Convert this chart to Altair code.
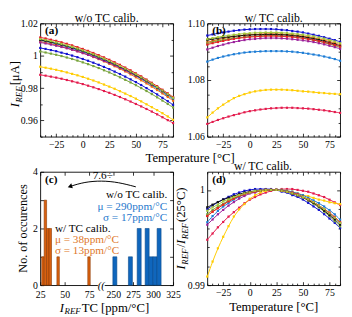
import altair as alt
import pandas as pd

FONT = "Liberation Serif"
W, H = 136, 116
SH, SV = 35, 36

TEMPS = list(range(-40, 90, 5))
SERIES = ["S1", "S2", "S3", "S4", "S5", "S6", "S7", "S8", "S9", "S10"]
COLORS = ["#E31A4C", "#FFCC00", "#1C7CD5", "#1010D0", "#F06A0F",
          "#77A33A", "#9B1F9B", "#111111", "#E41F26", "#A5C83A"]

# ---- panel (a): I_REF [uA] without TC calibration ----
A_S1 = [0.9882, 0.9877, 0.9871, 0.9865, 0.9858, 0.9850, 0.9842, 0.9834, 0.9825, 0.9815, 0.9805, 0.9794, 0.9782, 0.9771, 0.9758, 0.9745, 0.9731, 0.9717, 0.9702, 0.9687, 0.9671, 0.9655, 0.9638, 0.9620, 0.9602, 0.9584]
A_S2 = [0.9932, 0.9926, 0.9920, 0.9913, 0.9905, 0.9897, 0.9888, 0.9879, 0.9869, 0.9858, 0.9847, 0.9835, 0.9822, 0.9809, 0.9796, 0.9781, 0.9766, 0.9751, 0.9735, 0.9718, 0.9700, 0.9682, 0.9664, 0.9645, 0.9625, 0.9604]
A_S3 = [1.0094, 1.0088, 1.0081, 1.0073, 1.0064, 1.0055, 1.0045, 1.0035, 1.0024, 1.0012, 0.9999, 0.9986, 0.9972, 0.9958, 0.9943, 0.9927, 0.9910, 0.9893, 0.9875, 0.9856, 0.9837, 0.9817, 0.9796, 0.9774, 0.9752, 0.9730]
A_S4 = [1.0048, 1.0042, 1.0035, 1.0028, 1.0019, 1.0011, 1.0001, 0.9991, 0.9980, 0.9969, 0.9957, 0.9944, 0.9931, 0.9917, 0.9902, 0.9887, 0.9871, 0.9854, 0.9837, 0.9819, 0.9800, 0.9781, 0.9761, 0.9740, 0.9719, 0.9697]
A_S5 = [1.0087, 1.0081, 1.0074, 1.0066, 1.0057, 1.0048, 1.0038, 1.0028, 1.0017, 1.0005, 0.9992, 0.9979, 0.9965, 0.9950, 0.9935, 0.9919, 0.9903, 0.9885, 0.9867, 0.9848, 0.9829, 0.9809, 0.9788, 0.9767, 0.9745, 0.9722]
A_S6 = [1.0026, 1.0020, 1.0013, 1.0006, 0.9998, 0.9989, 0.9980, 0.9970, 0.9959, 0.9948, 0.9936, 0.9924, 0.9910, 0.9897, 0.9882, 0.9867, 0.9851, 0.9835, 0.9818, 0.9800, 0.9782, 0.9763, 0.9743, 0.9723, 0.9702, 0.9680]
A_S7 = [1.0082, 1.0076, 1.0069, 1.0062, 1.0054, 1.0046, 1.0037, 1.0027, 1.0016, 1.0005, 0.9994, 0.9981, 0.9968, 0.9955, 0.9941, 0.9926, 0.9910, 0.9894, 0.9877, 0.9860, 0.9842, 0.9823, 0.9804, 0.9784, 0.9763, 0.9742]
A_S8 = [1.0098, 1.0092, 1.0085, 1.0077, 1.0069, 1.0060, 1.0050, 1.0040, 1.0029, 1.0017, 1.0005, 0.9991, 0.9978, 0.9963, 0.9948, 0.9933, 0.9916, 0.9899, 0.9881, 0.9863, 0.9844, 0.9824, 0.9804, 0.9782, 0.9761, 0.9738]
A_S9 = [1.0113, 1.0107, 1.0099, 1.0092, 1.0083, 1.0074, 1.0064, 1.0053, 1.0042, 1.0030, 1.0017, 1.0004, 0.9990, 0.9975, 0.9960, 0.9944, 0.9927, 0.9910, 0.9891, 0.9873, 0.9853, 0.9833, 0.9812, 0.9790, 0.9768, 0.9745]
A_S10 = [1.0103, 1.0097, 1.0090, 1.0082, 1.0073, 1.0064, 1.0055, 1.0044, 1.0033, 1.0021, 1.0009, 0.9995, 0.9982, 0.9967, 0.9952, 0.9936, 0.9920, 0.9902, 0.9885, 0.9866, 0.9847, 0.9827, 0.9806, 0.9785, 0.9763, 0.9740]

# ---- panel (b): I_REF [uA] with TC calibration ----
B_S1 = [1.0645, 1.0652, 1.0659, 1.0665, 1.0671, 1.0676, 1.0681, 1.0686, 1.0690, 1.0693, 1.0696, 1.0698, 1.0700, 1.0701, 1.0702, 1.0702, 1.0702, 1.0701, 1.0700, 1.0699, 1.0697, 1.0695, 1.0693, 1.0690, 1.0687, 1.0684]
B_S2 = [1.0668, 1.0685, 1.0700, 1.0713, 1.0725, 1.0736, 1.0744, 1.0750, 1.0756, 1.0760, 1.0763, 1.0765, 1.0766, 1.0766, 1.0766, 1.0765, 1.0764, 1.0762, 1.0760, 1.0759, 1.0757, 1.0755, 1.0754, 1.0752, 1.0751, 1.0750]
B_S3 = [1.0865, 1.0872, 1.0878, 1.0883, 1.0887, 1.0891, 1.0894, 1.0897, 1.0899, 1.0900, 1.0901, 1.0902, 1.0902, 1.0902, 1.0902, 1.0901, 1.0900, 1.0898, 1.0896, 1.0893, 1.0890, 1.0887, 1.0883, 1.0879, 1.0874, 1.0868]
B_S4 = [1.0957, 1.0961, 1.0965, 1.0968, 1.0971, 1.0974, 1.0976, 1.0978, 1.0979, 1.0980, 1.0980, 1.0980, 1.0980, 1.0979, 1.0977, 1.0976, 1.0973, 1.0971, 1.0968, 1.0964, 1.0960, 1.0956, 1.0951, 1.0946, 1.0941, 1.0935]
B_S5 = [1.0933, 1.0938, 1.0942, 1.0946, 1.0950, 1.0953, 1.0956, 1.0958, 1.0960, 1.0961, 1.0962, 1.0963, 1.0963, 1.0963, 1.0962, 1.0961, 1.0959, 1.0957, 1.0955, 1.0952, 1.0949, 1.0945, 1.0941, 1.0936, 1.0931, 1.0925]
B_S6 = [1.0929, 1.0934, 1.0938, 1.0941, 1.0945, 1.0948, 1.0950, 1.0952, 1.0954, 1.0955, 1.0956, 1.0957, 1.0957, 1.0957, 1.0956, 1.0955, 1.0953, 1.0951, 1.0948, 1.0945, 1.0941, 1.0937, 1.0932, 1.0927, 1.0921, 1.0915]
B_S7 = [1.0908, 1.0914, 1.0920, 1.0925, 1.0930, 1.0934, 1.0938, 1.0941, 1.0944, 1.0945, 1.0947, 1.0948, 1.0948, 1.0948, 1.0947, 1.0946, 1.0944, 1.0942, 1.0940, 1.0937, 1.0934, 1.0930, 1.0926, 1.0921, 1.0916, 1.0910]
B_S8 = [1.0941, 1.0944, 1.0947, 1.0950, 1.0952, 1.0954, 1.0956, 1.0958, 1.0959, 1.0960, 1.0960, 1.0961, 1.0961, 1.0961, 1.0960, 1.0959, 1.0957, 1.0955, 1.0953, 1.0949, 1.0946, 1.0942, 1.0937, 1.0932, 1.0927, 1.0921]
B_S9 = [1.0925, 1.0930, 1.0934, 1.0938, 1.0942, 1.0945, 1.0948, 1.0950, 1.0952, 1.0953, 1.0954, 1.0955, 1.0955, 1.0955, 1.0954, 1.0953, 1.0952, 1.0950, 1.0947, 1.0944, 1.0941, 1.0937, 1.0933, 1.0929, 1.0924, 1.0918]
B_S10 = [1.0944, 1.0948, 1.0951, 1.0955, 1.0957, 1.0960, 1.0962, 1.0964, 1.0965, 1.0967, 1.0967, 1.0968, 1.0968, 1.0968, 1.0967, 1.0966, 1.0964, 1.0962, 1.0960, 1.0957, 1.0954, 1.0950, 1.0946, 1.0941, 1.0936, 1.0930]

# ---- panel (c): histogram of I_REF TC [ppm/degC] ----
OR_LO = [26.5, 29.0, 31.5, 34.0, 42.0, 73.5]
OR_HI = [29.0, 31.5, 34.0, 36.5, 44.5, 76.0]
OR_N = [1, 3, 2, 2, 1, 1]
BL_LO = [249.5, 269.0, 280.0, 290.0, 295.0, 300.0, 305.0]
BL_HI = [254.5, 274.0, 285.0, 295.0, 300.0, 305.0, 310.0]
BL_N = [1, 1, 2, 2, 1, 1, 2]
TC_TICKS = [25, 50, 75, 250, 275, 300, 325]
ARROW_X = [97.5, 80.0, 62.5, 45.0, 31.0]
ARROW_Y = [3.47, 3.63, 3.69, 3.64, 3.49]


def long_df(arrs):
    rows = []
    for s, arr in zip(SERIES, arrs):
        for t, v in zip(TEMPS, arr):
            rows.append({"T": t, "v": v, "s": s})
    return pd.DataFrame(rows)


df_a = long_df([A_S1, A_S2, A_S3, A_S4, A_S5, A_S6, A_S7, A_S8, A_S9, A_S10])
df_b = long_df([B_S1, B_S2, B_S3, B_S4, B_S5, B_S6, B_S7, B_S8, B_S9, B_S10])
ref25 = df_b[df_b["T"] == 25].set_index("s")["v"]
df_d = df_b.copy()
df_d["v"] = df_b["v"] / df_b["s"].map(ref25)

ONE = pd.DataFrame({"k": [0]})

WID = {' ': 300, '(': 333, ')': 333, '[': 333, ']': 333, '/': 278, '°': 400, 'A': 722,
       'C': 667, 'T': 611, 'a': 444, 'c': 444, 'e': 444, 'm': 778, 'p': 500, 'r': 333,
       't': 278, 'u': 500, 'μ': 576, '.': 250, 'I': 380, 'R': 650, 'E': 650, 'F': 650}


def tw(s, size):
    return sum(WID.get(ch, 500) for ch in s) * size / 1000.0


def txt(text, x, y, size=12.5, angle=None, align="left", baseline="alphabetic",
        style="normal", weight="normal", color="black"):
    kw = dict(text=text, font=FONT, fontSize=size, align=align, baseline=baseline,
              fontStyle=style, fontWeight=weight, color=color)
    if angle is not None:
        kw["angle"] = angle
    return alt.Chart(ONE).mark_text(**kw).encode(x=alt.value(x), y=alt.value(y))


def compose_h(segs, cx, by):
    total = sum(tw(s, sz) for s, sz, st, dy in segs)
    x = cx - total / 2
    out = []
    for s, sz, st, dy in segs:
        out.append(txt(s, x, by + dy, size=sz, style=st))
        x += tw(s, sz)
    return out


def compose_v(segs, bx, cy):
    total = sum(tw(s, sz) for s, sz, st, dy in segs)
    y = cy + total / 2
    out = []
    for s, sz, st, dy in segs:
        out.append(txt(s, bx + dy, y, size=sz, style=st, angle=270))
        y -= tw(s, sz)
    return out


def tick_layers(xs, ys, xdom, ydom, xmaj, xmin, ymaj, ymin):
    tiny = pd.DataFrame({"tx": xdom, "ty": ydom})
    out = []
    for xv, yv, ts in [(xmaj, ymaj, 3.5), (xmin, ymin, 2.0)]:
        if not xv and not yv:
            continue
        for xo, yo in [("top", "right"), ("bottom", "left")]:
            xa = alt.Axis(orient=xo, offset=-H, values=xv, labels=False, domain=False,
                          grid=False, title=None, tickSize=ts, tickColor="black", tickWidth=0.8)
            ya = alt.Axis(orient=yo, offset=-W, values=yv, labels=False, domain=False,
                          grid=False, title=None, tickSize=ts, tickColor="black", tickWidth=0.8)
            out.append(alt.Chart(tiny).mark_point(opacity=0).encode(
                x=alt.X("tx:Q", scale=xs, axis=xa), y=alt.Y("ty:Q", scale=ys, axis=ya)))
    return out


def label_layer(xs, ys, xdom, ydom, xvals, yvals, xkw=None, ykw=None, xpad=3):
    tiny = pd.DataFrame({"tx": xdom, "ty": ydom})
    xa = alt.Axis(orient="bottom", values=xvals, ticks=False, tickSize=0, domain=False,
                  grid=False, title=None, labelPadding=xpad, labelOverlap=False,
                  labelFlush=False, **(xkw or {}))
    ya = alt.Axis(orient="left", values=yvals, ticks=False, tickSize=0, domain=False,
                  grid=False, title=None, labelPadding=3, labelOverlap=False,
                  labelFlush=False, **(ykw or {}))
    return alt.Chart(tiny).mark_point(opacity=0).encode(
        x=alt.X("tx:Q", scale=xs, axis=xa), y=alt.Y("ty:Q", scale=ys, axis=ya))


def data_layers(df, xs, ys):
    color = alt.Color("s:N", scale=alt.Scale(domain=SERIES, range=COLORS), legend=None)
    line = alt.Chart(df).mark_line(strokeWidth=1, interpolate="basis").encode(
        x=alt.X("T:Q", scale=xs, axis=None), y=alt.Y("v:Q", scale=ys, axis=None), color=color)
    pts = alt.Chart(df).mark_point(shape="square", filled=True, size=5, opacity=1).encode(
        x=alt.X("T:Q", scale=xs, axis=None), y=alt.Y("v:Q", scale=ys, axis=None), color=color)
    return [line, pts]


def panel(layers):
    return alt.layer(*layers).resolve_axis(x="independent", y="independent").properties(
        width=W, height=H)


XT_Y = H + 26
TX = [-40, 85]
XMAJ = [-25, 0, 25, 50, 75]
XMIN = [t for t in TEMPS if t not in XMAJ]
xs_T = alt.Scale(domain=TX, nice=False, zero=False)

# panel (a)
ys_a = alt.Scale(domain=[0.95, 1.02], nice=False, zero=False)
pa = panel(
    tick_layers(xs_T, ys_a, TX, [0.95, 1.02], XMAJ, XMIN, [0.96, 0.98, 1.0, 1.02], [0.95, 0.97, 0.99, 1.01])
    + [label_layer(xs_T, ys_a, TX, [0.95, 1.02], XMAJ, [0.96, 0.98, 1.0, 1.02], ykw={"format": "~g"})]
    + data_layers(df_a, xs_T, ys_a)
    + [txt("(a)", 5, 8, size=11.5, weight="bold", baseline="middle"),
       txt("w/o TC calib.", W / 2, -5.5, size=12, align="center", baseline="middle"),
       txt("Temperature [°C]", (2 * W + SH) / 2, XT_Y, size=13, align="center")]
    + compose_v([("I", 13, "italic", 0), ("REF", 9, "italic", 3), (" [μA]", 13, "normal", 0)], -22, H / 2 + 2)
)

# panel (b)
ys_b = alt.Scale(domain=[1.06, 1.10], nice=False, zero=False)
pb = panel(
    tick_layers(xs_T, ys_b, TX, [1.06, 1.10], XMAJ, XMIN, [1.06, 1.08, 1.10],
                [1.065, 1.07, 1.075, 1.085, 1.09, 1.095])
    + [label_layer(xs_T, ys_b, TX, [1.06, 1.10], XMAJ, [1.06, 1.08, 1.10], ykw={"format": ".2f"})]
    + data_layers(df_b, xs_T, ys_b)
    + [txt("(b)", 5, 8, size=11.5, weight="bold", baseline="middle"),
       txt("w/ TC calib.", W / 2, -5.5, size=12, align="center", baseline="middle")]
)

# panel (c)
CX = [0, 135.5]
xs_c = alt.Scale(domain=CX, nice=False, zero=False)
ys_c = alt.Scale(domain=[0, 4], nice=False, zero=False)


def tc_pos(v):
    return v - 25 if v < 150 else 74.5 + (v - 250) * 0.813


CPOS = [tc_pos(v) for v in TC_TICKS]
CEXPR = "datum.{f} < 150 ? datum.{f} - 25 : 74.5 + (datum.{f} - 250) * 0.813"
LBL = "datum.value < 60 ? toString(round(datum.value + 25)) : toString(round((datum.value - 74.5) / 0.813 + 250))"


def bars(lo, hi, n, fill, stroke):
    df = pd.DataFrame({"lo": lo, "hi": hi, "n": n})
    return alt.Chart(df).transform_calculate(
        x0=CEXPR.format(f="lo"), x1=CEXPR.format(f="hi")
    ).mark_rect(color=fill, stroke=stroke, strokeWidth=0.6).encode(
        x=alt.X("x0:Q", scale=xs_c, axis=None), x2="x1:Q",
        y=alt.Y("n:Q", scale=ys_c, axis=None), y2=alt.datum(0))


arrow_df = pd.DataFrame({"ax": ARROW_X, "ay": ARROW_Y})
arrow = alt.Chart(arrow_df).mark_line(interpolate="basis", color="black", strokeWidth=1).encode(
    x=alt.X("ax:Q", scale=xs_c, axis=None), y=alt.Y("ay:Q", scale=ys_c, axis=None))
head = alt.Chart(arrow_df.tail(1)).mark_point(shape="triangle", filled=True, size=28, angle=253,
                                             color="black", opacity=1).encode(
    x=alt.X("ax:Q", scale=xs_c, axis=None), y=alt.Y("ay:Q", scale=ys_c, axis=None))

k = H / 117.0
BLUE_T = "#1F78CC"
ORNG_T = "#E0782A"
pc = panel(
    tick_layers(xs_c, ys_c, CX, [0, 4], CPOS, [], [0, 1, 2, 3, 4], [])
    + [label_layer(xs_c, ys_c, CX, [0, 4], CPOS, [0, 2, 4], xkw={"labelExpr": LBL}, xpad=5)]
    + [bars(OR_LO, OR_HI, OR_N, "#D9600F", "#8A3A05"),
       bars(BL_LO, BL_HI, BL_N, "#0F66BD", "#0A4A8A"),
       arrow, head,
       alt.Chart(ONE).mark_rect(color="white").encode(
           x=alt.value(59), x2=alt.value(66), y=alt.value(H - 3), y2=alt.value(H + 3)),
       txt("((", 62.5, H + 1, size=11, style="italic", align="center", baseline="middle"),
       txt("(c)", 5, 8, size=11.5, weight="bold", baseline="middle"),
       txt("7.6÷", 64, 4 * k, size=11.5, align="center", baseline="middle"),
       txt("w/o TC calib.", 130, 24.5 * k, size=11.5, align="right", baseline="middle"),
       txt("μ = 290ppm/°C", 130, 36 * k, size=11.5, align="right", baseline="middle", color=BLUE_T),
       txt("σ = 17ppm/°C", 130, 47.5 * k, size=11.5, align="right", baseline="middle", color=BLUE_T),
       txt("w/ TC calib.", 15, 59 * k, size=11.5, baseline="middle"),
       txt("μ = 38ppm/°C", 15, 70.5 * k, size=11.5, baseline="middle", color=ORNG_T),
       txt("σ = 13ppm/°C", 15, 81.5 * k, size=11.5, baseline="middle", color=ORNG_T),
       txt("No. of occurences", -14, H / 2, size=12.5, angle=270, align="center")]
    + compose_h([("I", 13, "italic", 0), ("REF", 9, "italic", 3), (" TC [ppm/°C]", 13, "normal", 0)], W / 2, XT_Y + 1)
)

# panel (d)
ys_d = alt.Scale(domain=[0.99, 1.0019], nice=False, zero=False)
pd_ = panel(
    tick_layers(xs_T, ys_d, TX, [0.99, 1.0019], XMAJ, XMIN, [0.99, 1.0],
                [0.992, 0.994, 0.996, 0.998])
    + [label_layer(xs_T, ys_d, TX, [0.99, 1.0019], XMAJ, [0.99, 1.0], ykw={"format": "~g"})]
    + data_layers(df_d, xs_T, ys_d)
    + [txt("(d)", 5, 8, size=11.5, weight="bold", baseline="middle"),
       txt("w/ TC calib.", W / 2 - 11, -5.5, size=12, align="center", baseline="middle"),
       txt("Temperature [°C]", W / 2, XT_Y, size=13, align="center")]
    + compose_v([("I", 13, "italic", 0), ("REF", 9, "italic", 3), ("/", 13, "normal", 0),
                 ("I", 13, "italic", 0), ("REF", 9, "italic", 3), ("(25°C)", 13, "normal", 0)],
                -23, H / 2)
)

chart = alt.concat(pa, pb, pc, pd_, columns=2, spacing={"row": SV, "column": SH},
                   bounds="flush").properties(padding=0).configure_axis(
    labelFont=FONT, labelFontSize=10, labelColor="black", grid=False
).configure_view(stroke="black", strokeWidth=0.9)

chart.save("out.html", embed_options={"renderer": "svg", "actions": False})
